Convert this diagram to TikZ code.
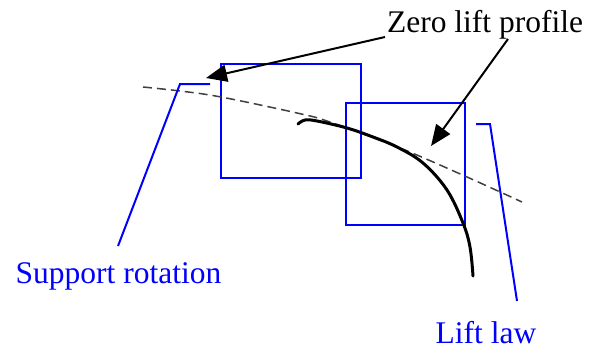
\documentclass[tikz,border=0pt]{standalone}
\usepackage{fontspec}
\setmainfont{Liberation Serif}
\usetikzlibrary{arrows.meta}
\begin{document}
\begin{tikzpicture}[x=1pt,y=-1pt,
  lbl/.style={font=\fontsize{31.5}{36}\selectfont, inner sep=0pt, anchor=base},
  bluelbl/.style={lbl, text=blue},
  frame/.style={draw=blue, line width=2pt},
  leader/.style={draw=blue, line width=2pt},
  pointer/.style={draw=black, line width=2pt, -{Triangle[length=21pt,width=17pt]}},
  zeroline/.style={draw=black!75, line width=1.5pt, dash pattern=on 9pt off 5pt},
  liftcurve/.style={draw=black, line width=3pt, line cap=round}]
\useasboundingbox (0,0) rectangle (602,349);
% texts
\node[lbl] (zero) at (485,32) {Zero lift profile};
\node[bluelbl] (support) at (118.5,283) {Support rotation};
\node[bluelbl] (lift) at (486,343) {Lift law};
% boxes
\draw[frame] (221,64) rectangle (361,178);
\draw[frame] (346,103) rectangle (465,225);
% dashed zero lift line
\draw[zeroline] plot[smooth, tension=0.6] coordinates {(143,87) (180,91) (221,97) (297,113) (330,122) (400,148) (467,177) (522,202)};
% lift curve
\draw[liftcurve] plot[smooth, tension=0.6] coordinates {(298,124) (305,120) (317,121) (347,128) (373,137) (397,147) (423,163) (447,190) (463,223) (470,247) (473,276)};
% leaders
\coordinate (s1) at (210,84);
\coordinate (s2) at (180,84);
\coordinate (s3) at (118,246);
\draw[leader] (s1) -- (s2) -- (s3);
\coordinate (l1) at (476,124);
\coordinate (l2) at (490,124);
\coordinate (l3) at (517,301);
\draw[leader] (l1) -- (l2) -- (l3);
% arrows
\coordinate (a1s) at (385,37);
\coordinate (a1e) at (206,78);
\coordinate (a2s) at (508,39);
\coordinate (a2e) at (431,146);
\draw[pointer] (a1s) -- (a1e);
\draw[pointer] (a2s) -- (a2e);
\end{tikzpicture}
\end{document}
